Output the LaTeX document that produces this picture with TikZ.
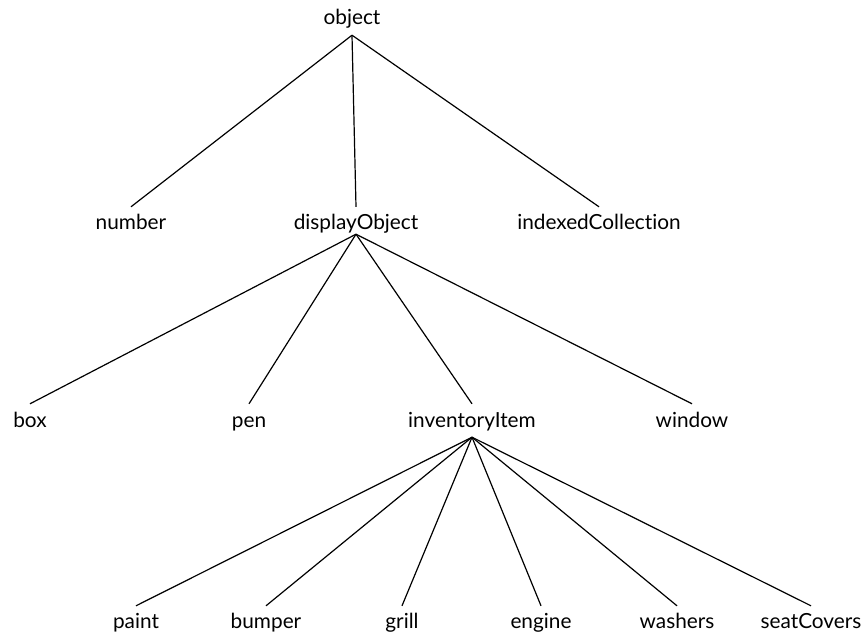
\documentclass[tikz,border=0pt]{standalone}
\usepackage{fontspec}
\setmainfont[Ligatures={NoCommon,NoRequired,NoContextual}]{Lato}
\begin{document}
\begin{tikzpicture}[x=1pt,y=1pt,
  lbl/.style={inner sep=0pt, text height=23pt, text depth=10pt, anchor=base, font=\fontsize{20.8}{24}\selectfont},
  edge/.style={line width=1.2pt, black}]
\useasboundingbox (0,0) rectangle (865,-636);
% level 0
\node[lbl] (object) at (352,-25) {object};
% level 1
\node[lbl] (number) at (131,-230) {number};
\node[lbl, text depth=4pt] (dobj) at (356,-230) {displayObject};
\node[lbl] (icoll) at (599,-230) {indexedCollection};
% level 2
\node[lbl] (box) at (30,-427) {box};
\node[lbl] (pen) at (249,-427) {pen};
\node[lbl] (inv) at (472,-427) {inventoryItem};
\node[lbl] (window) at (692,-427) {window};
% level 3
\node[lbl, text height=22pt] (paint) at (136,-628) {paint};
\node[lbl, text height=22pt] (bumper) at (266,-628) {bumper};
\node[lbl, text height=22pt] (grill) at (402,-628) {grill};
\node[lbl, text height=22pt] (engine) at (541,-628) {engine};
\node[lbl, text height=22pt] (washers) at (677,-628) {washers};
\node[lbl, text height=22pt] (seat) at (811,-628) {seatCovers};
% edges
\foreach \c in {number,dobj,icoll} \draw[edge] (object.south) -- (\c.north);
\foreach \c in {box,pen,inv,window} \draw[edge] (dobj.south) -- (\c.north);
\foreach \c in {paint,bumper,grill,engine,washers,seat} \draw[edge] (inv.south) -- (\c.north);
\end{tikzpicture}
\end{document}
